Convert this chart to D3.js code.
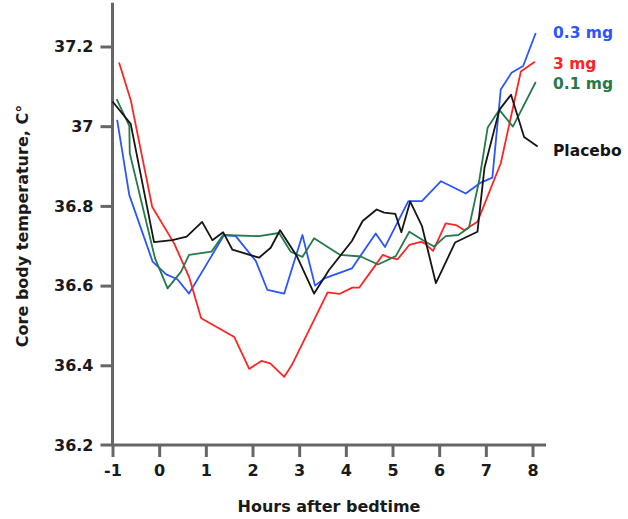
<!DOCTYPE html>
<html>
<head>
<meta charset="utf-8">
<script src="https://cdn.jsdelivr.net/npm/d3@7"></script>
<style>
  html, body { margin: 0; padding: 0; background: #fff; }
  svg { display: block; }
  text { font-family: Verdana, "DejaVu Sans", sans-serif; font-weight: bold; }
</style>
</head>
<body>
<svg id="chart" width="628" height="519"></svg>
<script>
// ---- Data ----
const xTicks = [-1, 0, 1, 2, 3, 4, 5, 6, 7, 8];
const xTickLabels = ["-1", "0", "1", "2", "3", "4", "5", "6", "7", "8"];
const yTicks = [36.2, 36.4, 36.6, 36.8, 37.0, 37.2];
const yTickLabels = ["36.2", "36.4", "36.6", "36.8", "37", "37.2"];

const seriesNames = ["0.3 mg", "3 mg", "0.1 mg", "Placebo"];
const seriesColors = ["#2b55ff", "#ff2424", "#267a4a", "#151515"];

const mg03Hours = [-0.90, -0.64, -0.14, 0.15, 0.39, 0.64, 1.07, 1.39, 1.64, 2.07, 2.32, 2.68, 3.07, 3.34, 3.54, 4.13, 4.64, 4.84, 5.34, 5.63, 6.04, 6.57, 6.87, 7.14, 7.32, 7.55, 7.80, 8.07];
const mg03Temps = [37.016, 36.827, 36.660, 36.628, 36.616, 36.580, 36.664, 36.727, 36.724, 36.662, 36.589, 36.580, 36.727, 36.600, 36.618, 36.643, 36.731, 36.697, 36.812, 36.812, 36.862, 36.831, 36.857, 36.871, 37.092, 37.134, 37.151, 37.234];

const mg3Hours = [-0.86, -0.61, -0.15, 0.32, 0.64, 0.90, 1.61, 1.93, 2.19, 2.38, 2.68, 2.84, 3.61, 3.86, 4.14, 4.29, 4.64, 4.79, 4.93, 5.11, 5.36, 5.61, 5.69, 5.87, 6.14, 6.36, 6.54, 6.82, 7.32, 7.75, 8.05];
const mg3Temps = [37.160, 37.066, 36.798, 36.706, 36.622, 36.518, 36.471, 36.391, 36.411, 36.405, 36.371, 36.400, 36.583, 36.579, 36.595, 36.595, 36.652, 36.677, 36.671, 36.666, 36.702, 36.710, 36.706, 36.687, 36.756, 36.752, 36.739, 36.760, 36.907, 37.137, 37.162];

const mg01Hours = [-0.91, -0.64, -0.63, -0.09, 0.18, 0.47, 0.64, 1.12, 1.37, 2.14, 2.57, 2.82, 3.07, 3.32, 3.88, 4.32, 4.69, 5.07, 5.36, 5.68, 5.89, 6.14, 6.41, 6.64, 6.86, 7.04, 7.29, 7.58, 8.07];
const mg01Temps = [37.068, 37.001, 36.932, 36.669, 36.593, 36.635, 36.677, 36.685, 36.727, 36.724, 36.732, 36.685, 36.672, 36.719, 36.677, 36.673, 36.653, 36.674, 36.735, 36.712, 36.698, 36.724, 36.727, 36.746, 36.865, 36.997, 37.041, 36.999, 37.111];

const placeboHours = [-1.00, -0.61, -0.11, 0.28, 0.59, 0.92, 1.14, 1.37, 1.57, 2.14, 2.39, 2.59, 2.95, 3.32, 3.64, 4.13, 4.36, 4.66, 4.82, 5.06, 5.19, 5.38, 5.63, 5.93, 6.34, 6.82, 6.97, 7.29, 7.54, 7.82, 8.11];
const placeboTemps = [37.062, 37.006, 36.709, 36.714, 36.723, 36.760, 36.714, 36.734, 36.690, 36.670, 36.695, 36.739, 36.674, 36.580, 36.639, 36.712, 36.762, 36.791, 36.783, 36.780, 36.734, 36.811, 36.750, 36.606, 36.708, 36.735, 36.895, 37.041, 37.079, 36.973, 36.949];

const labelTemps = [37.235, 37.157, 37.107, 36.94];

// ---- Build ----
const series = [
  {name: seriesNames[0], color: seriesColors[0], hours: mg03Hours, temps: mg03Temps},
  {name: seriesNames[1], color: seriesColors[1], hours: mg3Hours, temps: mg3Temps},
  {name: seriesNames[2], color: seriesColors[2], hours: mg01Hours, temps: mg01Temps},
  {name: seriesNames[3], color: seriesColors[3], hours: placeboHours, temps: placeboTemps}
];

const svg = d3.select("#chart");
const x = d3.scaleLinear().domain([-1, 8]).range([112.5, 532.5]);
const y = d3.scaleLinear().domain([36.2, 37.2]).range([445, 46.5]);
const axisColor = "#666666";

// Y axis
const yAxis = d3.axisLeft(y)
  .tickValues(yTicks.slice(1))
  .tickFormat((d) => yTickLabels[yTicks.indexOf(d)])
  .tickSize(12).tickSizeOuter(0).tickPadding(7);
const gy = svg.append("g").attr("transform", `translate(${x(-1)},0)`).call(yAxis);
gy.select(".domain").remove();
gy.selectAll(".tick line").attr("stroke", axisColor).attr("stroke-width", 3);
gy.selectAll(".tick text").attr("fill", "#1a1a1a").style("font-size", "16px");
// 36.2 label (at x-axis line level)
svg.append("text").attr("x", x(-1) - 19).attr("y", y(36.2)).attr("dy", "0.36em")
  .attr("text-anchor", "end").attr("fill", "#1a1a1a").style("font-size", "16px")
  .text(yTickLabels[0]);

// X axis
const xAxis = d3.axisBottom(x).tickValues(xTicks)
  .tickFormat((d) => xTickLabels[xTicks.indexOf(d)])
  .tickSize(12).tickSizeOuter(0).tickPadding(8);
const gx = svg.append("g").attr("transform", `translate(0,${y(36.2)})`).call(xAxis);
gx.select(".domain").remove();
gx.selectAll(".tick line").attr("stroke", axisColor).attr("stroke-width", 3);
gx.selectAll(".tick text").attr("fill", "#1a1a1a").style("font-size", "16px");

// Axis lines
svg.append("line")
  .attr("x1", x(-1)).attr("x2", x(-1))
  .attr("y1", y(37.31)).attr("y2", y(36.2))
  .attr("stroke", axisColor).attr("stroke-width", 3);
svg.append("line")
  .attr("x1", x(-1) - 12).attr("x2", x(8.29))
  .attr("y1", y(36.2)).attr("y2", y(36.2))
  .attr("stroke", axisColor).attr("stroke-width", 3);

// Lines
const line = d3.line().x((d) => x(d[0])).y((d) => y(d[1]));
series.forEach((s) => {
  const pts = s.hours.map((h, i) => [h, s.temps[i]]);
  svg.append("path").datum(pts)
    .attr("d", line)
    .attr("fill", "none")
    .attr("stroke", s.color)
    .attr("stroke-width", 1.8)
    .attr("stroke-linejoin", "round");
});

// Labels
series.forEach((s, i) => {
  svg.append("text")
    .attr("x", 553).attr("y", y(labelTemps[i]))
    .attr("dy", "0.36em")
    .attr("fill", s.color)
    .style("font-size", "15.5px")
    .text(s.name);
});

// Axis titles
svg.append("text")
  .attr("x", 329).attr("y", 512)
  .attr("text-anchor", "middle").attr("fill", "#1a1a1a")
  .style("font-size", "16px")
  .text("Hours after bedtime");
svg.append("text")
  .attr("transform", "translate(22,226) rotate(-90)")
  .attr("text-anchor", "middle").attr("dy", "0.36em").attr("fill", "#1a1a1a")
  .style("font-size", "16px")
  .text("Core body temperature, C°");
</script>
</body>
</html>
